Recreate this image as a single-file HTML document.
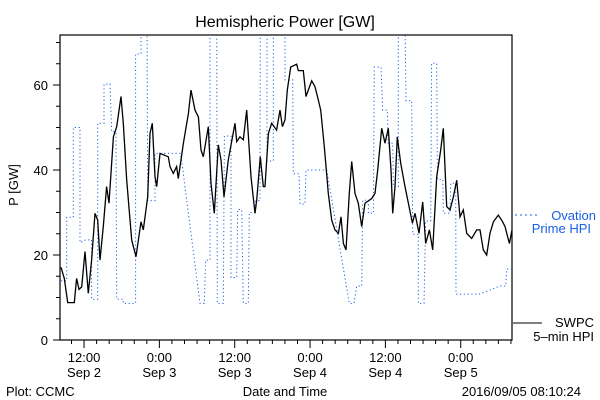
<!DOCTYPE html>
<html><head><meta charset="utf-8"><style>
html,body{margin:0;padding:0;background:#fff}
svg{display:block}
text{font-family:"Liberation Sans",sans-serif;font-size:13px;fill:#000}
</style></head><body>
<svg id="chart" width="600" height="400" viewBox="0 0 600 400">
<rect width="600" height="400" fill="#fff"/>
<text x="285" y="27" text-anchor="middle" style="font-size:16px">Hemispheric Power [GW]</text>
<text transform="translate(18,185) rotate(-90)" text-anchor="middle">P [GW]</text>
<text x="285" y="396" text-anchor="middle">Date and Time</text>
<text x="6" y="396">Plot: CCMC</text>
<text x="581" y="396" text-anchor="end">2016/09/05 08:10:24</text>
<g id="axes"></g>
<g id="series"></g>
<g>
<line x1="515" y1="215" x2="540" y2="215" stroke="#1a5fe8" stroke-width="1" stroke-dasharray="2,3"/>
<text x="596" y="220" text-anchor="end" style="fill:#1a5fe8">Ovation</text>
<text x="591" y="233" text-anchor="end" style="fill:#1a5fe8">Prime HPI</text>
<line x1="513" y1="323" x2="542" y2="323" stroke="#000" stroke-width="1"/>
<text x="594" y="327" text-anchor="end">SWPC</text>
<text x="594" y="341" text-anchor="end">5–min HPI</text>
</g>
</svg>
<script>
const xTickHours = [3.83, 15.83, 27.83, 39.83, 51.83, 63.83];
const xTickLabels = [["12:00","Sep 2"],["0:00","Sep 3"],["12:00","Sep 3"],["0:00","Sep 4"],["12:00","Sep 4"],["0:00","Sep 5"]];
const yTickValues = [0, 20, 40, 60];
const swpcHours = [0.16,0.69,1.22,2.28,2.65,3.03,3.45,3.98,4.51,5.04,5.58,6.0,6.37,6.9,7.43,7.81,8.5,9.03,9.72,10.09,10.62,11.42,12.11,12.9,13.27,13.97,14.34,14.71,15.13,15.4,15.93,17.25,17.52,18.05,18.58,18.85,19.65,20.45,20.87,21.5,22.04,22.46,22.83,23.63,24.05,24.58,25.22,25.65,26.12,26.81,27.88,28.14,28.67,29.2,29.74,30.43,31.06,31.33,31.91,32.39,32.66,33.19,33.72,34.51,35.05,35.42,35.84,36.21,36.75,37.7,37.96,38.76,39.19,39.56,40.1,40.62,41.15,41.53,42.1,42.74,43.28,43.81,44.34,44.76,45.14,45.56,46.09,46.47,46.99,47.52,48.06,48.59,49.65,50.18,50.6,51.24,51.77,52.3,52.73,53.0,53.37,53.73,54.27,54.96,55.49,56.13,56.55,57.19,57.78,58.26,58.84,59.37,60.01,60.65,61.06,61.6,62.13,62.66,63.19,63.72,64.25,64.79,65.58,66.38,66.91,67.43,67.97,68.5,69.03,69.82,70.36,70.89,71.58,72.0];
const swpcValues = [17.1,14.5,8.8,8.8,14.5,11.9,12.5,20.8,11.0,18.8,29.8,28.2,18.8,26.7,36.1,32.2,47.8,50.2,57.3,51.0,37.6,23.5,19.6,27.8,25.9,33.7,48.6,51.0,38.4,36.1,43.9,43.1,40.8,39.2,40.8,38.0,46.3,53.3,58.8,54.1,52.5,44.7,43.1,50.2,36.9,29.8,45.9,42.4,33.7,42.4,51.0,46.7,47.8,47.1,54.1,38.4,29.8,32.9,43.1,36.1,36.1,48.6,51.0,49.4,54.1,50.2,51.8,58.8,64.2,64.9,63.4,63.4,57.3,58.8,61.0,59.6,56.5,54.1,45.5,34.5,28.2,25.9,25.1,29.0,22.7,21.2,34.5,42.0,34.5,32.2,26.7,32.2,33.3,34.5,40.0,49.8,46.3,49.8,40.0,29.8,36.1,47.8,41.6,36.1,32.2,27.5,29.8,25.1,32.5,22.7,25.9,21.2,38.4,44.7,49.8,31.4,30.6,33.7,37.6,29.0,30.6,25.1,23.9,25.9,25.9,21.2,20.0,25.1,27.8,29.4,28.2,26.7,22.7,25.9];
const ovationHours = [0.16,1.06,1.06,2.12,2.12,3.19,3.19,3.98,5.04,5.04,6.0,6.0,7.01,7.01,7.96,8.23,8.92,9.03,10.09,10.09,12.05,12.05,12.9,12.9,13.86,13.97,15.13,15.13,19.22,22.3,22.99,23.2,23.9,23.9,24.96,25.06,26.02,26.18,27.24,27.24,28.14,28.3,28.94,29.2,30.0,30.16,31.06,31.17,31.86,31.91,32.98,32.98,33.98,33.98,35.84,35.84,37.06,37.17,38.07,38.23,39.03,39.19,42.48,46.09,46.83,47.26,48.06,48.22,49.12,49.12,49.92,50.07,51.13,51.4,52.14,52.3,52.99,53.1,53.89,53.89,54.96,55.12,56.02,56.18,57.08,57.08,57.98,58.25,59.05,59.2,60.01,60.12,60.97,61.06,62.13,62.24,63.03,63.08,66.81,70.1,71.0,71.15,72.0];
const ovationValues = [13.9,13.9,28.9,28.9,50.0,50.0,22.9,23.5,23.6,9.6,9.6,51.0,51.0,60.2,60.2,49.0,49.0,9.6,9.6,8.6,8.6,67.3,67.3,75,75,32.8,32.8,43.9,43.9,8.6,8.6,18.8,18.8,75,75,8.6,8.6,48.0,48.0,14.7,14.7,30.7,30.7,8.6,8.6,30.0,30.0,32.8,32.8,75,75,42.1,42.1,75,75,61.2,61.2,39.1,39.1,32.0,32.0,40.0,40.0,8.6,8.6,12.7,12.7,32.9,32.9,29.8,29.8,64.2,64.2,54.1,54.1,46.3,46.3,36.1,36.1,75,75,56.3,56.3,24.9,24.9,8.6,8.6,28.0,28.0,65.1,65.1,37.8,37.8,29.8,29.8,36.9,36.9,10.8,10.8,12.7,12.7,16.7,16.7];

const NS = "http://www.w3.org/2000/svg";
const X0 = 60, X1 = 512, Y0 = 340, Y1 = 35, TSPAN = 72, VMAX = (340-35)/4.25;
function xs(t){ return X0 + t / TSPAN * (X1 - X0); }
function ys(v){ return Y0 - v / VMAX * (Y0 - Y1); }
function mk(tag, attrs, parent){
  const e = document.createElementNS(NS, tag);
  for (const k in attrs) e.setAttribute(k, attrs[k]);
  parent.appendChild(e); return e;
}
const axes = document.getElementById('axes');
const series = document.getElementById('series');

const frame = mk('rect', {x:X0, y:Y1, width:X1-X0, height:Y0-Y1, fill:'none', stroke:'#000', 'stroke-width':1.2}, axes);



for (let v = 0; v <= 70; v += 5) {
  const major = v % 20 === 0;
  const tk = mk('line', {x1:X0 - (major ? 7 : 4), x2:X0, y1:ys(v), y2:ys(v), stroke:'#000'}, axes);
  
  
}
yTickValues.forEach(v => {
  const t = mk('text', {x:48, y:ys(v)+5, 'text-anchor':'end'}, axes);
  t.textContent = String(v);
  
  
});
for (let h = 1.83; h <= TSPAN; h += 2) {
  const major = xTickHours.some(m => Math.abs(m - h) < 0.01);
  const tk = mk('line', {x1:xs(h), x2:xs(h), y1:Y0, y2:Y0 + (major ? 8 : 4), stroke:'#000'}, axes);
  
  
}
xTickHours.forEach((h, i) => {
  const t1 = mk('text', {x:xs(h), y:362, 'text-anchor':'middle'}, axes);
  t1.textContent = xTickLabels[i][0];
  
  
  const t2 = mk('text', {x:xs(h), y:377, 'text-anchor':'middle'}, axes);
  t2.textContent = xTickLabels[i][1];
  
  
});

const clip = mk('clipPath', {id:'plotclip'}, series);
mk('rect', {x:X0, y:Y1, width:X1-X0, height:Y0-Y1}, clip);

const ovPts = ovationHours.map((h, i) => xs(h).toFixed(1) + ',' + ys(ovationValues[i]).toFixed(1)).join(' ');
const ov = mk('polyline', {points:ovPts, fill:'none', stroke:'#1a5fe8', 'stroke-width':1, 'stroke-dasharray':'1.2,2.6', 'clip-path':'url(#plotclip)'}, series);



const swPts = swpcHours.map((h, i) => xs(h).toFixed(1) + ',' + ys(swpcValues[i]).toFixed(1)).join(' ');
const sw = mk('polyline', {points:swPts, fill:'none', stroke:'#000', 'stroke-width':1.3, 'clip-path':'url(#plotclip)'}, series);


</script>
</body></html>
